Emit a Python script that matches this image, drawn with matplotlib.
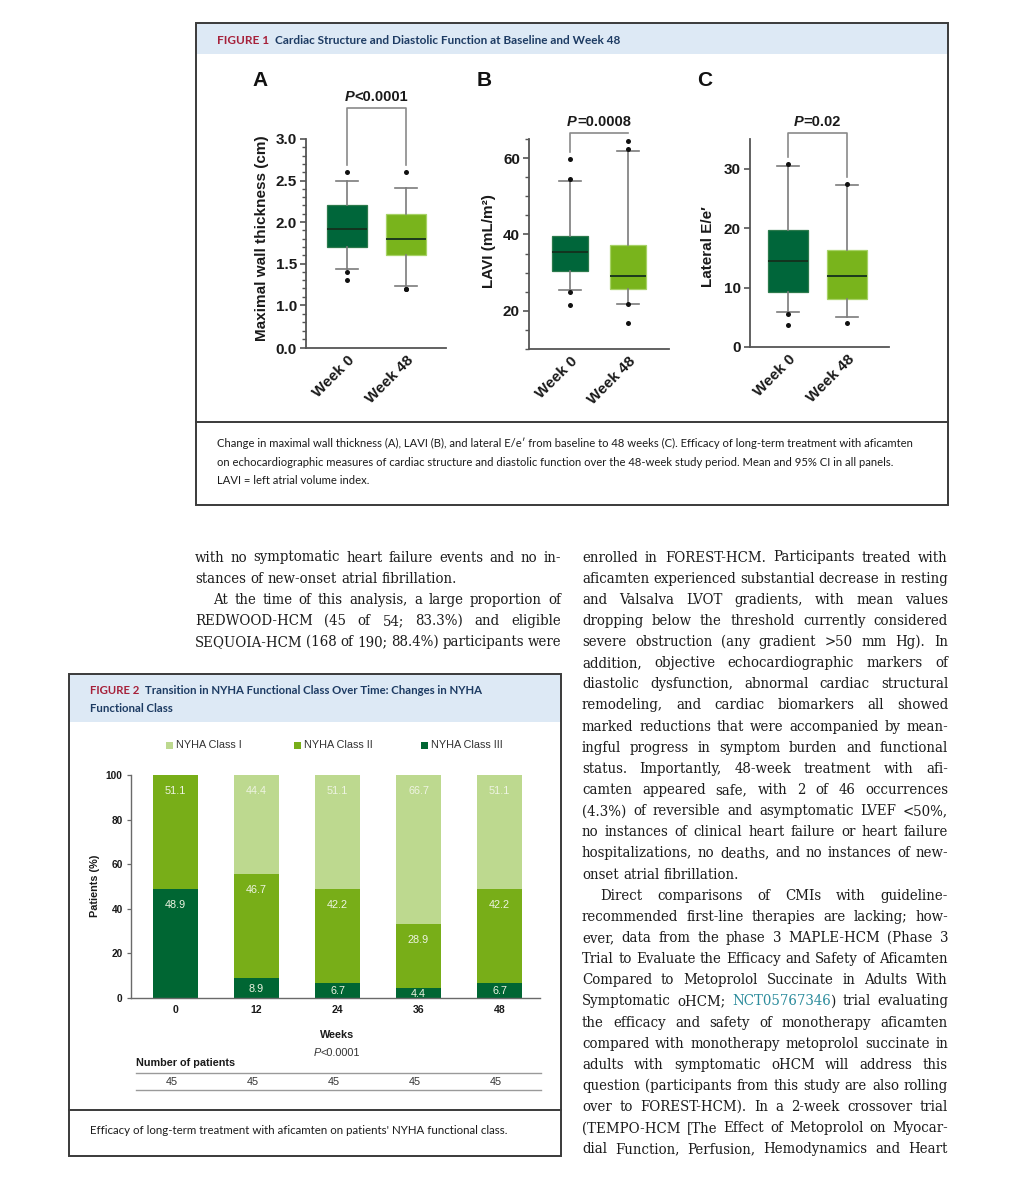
import numpy as np
import matplotlib
matplotlib.use('Agg')
import matplotlib.pyplot as plt
from matplotlib.patches import Rectangle
import matplotlib.ticker as mticker
import matplotlib.transforms as mtransforms
from matplotlib import font_manager as fm

plt.rcParams['font.family'] = ['Liberation Sans', 'DejaVu Sans']

# ---------------- data: Figure 1 (box plots) ----------------
box_groups = ['Week 0', 'Week 48']
wall_q1 = [1.70, 1.60]
wall_med = [1.91, 1.80]
wall_q3 = [2.20, 2.10]
wall_whislo = [1.43, 1.23]
wall_whishi = [2.50, 2.41]
wall_fliers = [[2.60, 1.40, 1.30], [2.60, 1.19, 1.19]]

lavi_q1 = [30.5, 25.6]
lavi_med = [35.3, 29.2]
lavi_q3 = [39.7, 37.2]
lavi_whislo = [25.5, 21.9]
lavi_whishi = [54.0, 61.9]
lavi_fliers = [[59.7, 54.4, 24.9, 21.4], [64.6, 62.4, 21.9, 16.9]]

ee_q1 = [9.3, 8.1]
ee_med = [14.5, 12.0]
ee_q3 = [19.7, 16.4]
ee_whislo = [5.9, 5.1]
ee_whishi = [30.4, 27.3]
ee_fliers = [[30.8, 5.6, 3.7], [27.4, 4.1]]

p_texts = ['<0.0001', '=0.0008', '=0.02']
panel_letters = ['A', 'B', 'C']
panel_ylabels = ['Maximal wall thickness (cm)', 'LAVI (mL/m\u00b2)', 'Lateral E/e\u2032']

# ---------------- data: Figure 2 (stacked bars) ----------------
weeks = ['0', '12', '24', '36', '48']
nyha_class1 = [0.0, 44.4, 51.1, 66.7, 51.1]
nyha_class2 = [51.1, 46.7, 42.2, 28.9, 42.2]
nyha_class3 = [48.9, 8.9, 6.7, 4.4, 6.7]
n_patients = [45, 45, 45, 45, 45]
nyha_labels = ['NYHA Class I', 'NYHA Class II', 'NYHA Class III']

# ---------------- text ----------------
fig1_title = 'Cardiac Structure and Diastolic Function at Baseline and Week 48'
fig1_caption = [
    'Change in maximal wall thickness (A), LAVI (B), and lateral E/e\u2032 from baseline to 48 weeks (C). Efficacy of long-term treatment with aficamten',
    'on echocardiographic measures of cardiac structure and diastolic function over the 48-week study period. Mean and 95% CI in all panels.',
    'LAVI = left atrial volume index.',
]
fig2_title = ['Transition in NYHA Functional Class Over Time: Changes in NYHA', 'Functional Class']
fig2_caption = "Efficacy of long-term treatment with aficamten on patients' NYHA functional class."

# (text, justified, indented)
left_col = [
    ('with no symptomatic heart failure events and no in-', True, False),
    ('stances of new-onset atrial fibrillation.', False, False),
    ('At the time of this analysis, a large proportion of', True, True),
    ('REDWOOD-HCM (45 of 54; 83.3%) and eligible', True, False),
    ('SEQUOIA-HCM (168 of 190; 88.4%) participants were', True, False),
]
right_col = [
    ('enrolled in FOREST-HCM. Participants treated with', True, False),
    ('aficamten experienced substantial decrease in resting', True, False),
    ('and Valsalva LVOT gradients, with mean values', True, False),
    ('dropping below the threshold currently considered', True, False),
    ('severe obstruction (any gradient >50 mm Hg). In', True, False),
    ('addition, objective echocardiographic markers of', True, False),
    ('diastolic dysfunction, abnormal cardiac structural', True, False),
    ('remodeling, and cardiac biomarkers all showed', True, False),
    ('marked reductions that were accompanied by mean-', True, False),
    ('ingful progress in symptom burden and functional', True, False),
    ('status. Importantly, 48-week treatment with afi-', True, False),
    ('camten appeared safe, with 2 of 46 occurrences', True, False),
    ('(4.3%) of reversible and asymptomatic LVEF <50%,', True, False),
    ('no instances of clinical heart failure or heart failure', True, False),
    ('hospitalizations, no deaths, and no instances of new-', True, False),
    ('onset atrial fibrillation.', False, False),
    ('Direct comparisons of CMIs with guideline-', True, True),
    ('recommended first-line therapies are lacking; how-', True, False),
    ('ever, data from the phase 3 MAPLE-HCM (Phase 3', True, False),
    ('Trial to Evaluate the Efficacy and Safety of Aficamten', True, False),
    ('Compared to Metoprolol Succinate in Adults With', True, False),
    ('Symptomatic oHCM; {NCT05767346}) trial evaluating', True, False),
    ('the efficacy and safety of monotherapy aficamten', True, False),
    ('compared with monotherapy metoprolol succinate in', True, False),
    ('adults with symptomatic oHCM will address this', True, False),
    ('question (participants from this study are also rolling', True, False),
    ('over to FOREST-HCM). In a 2-week crossover trial', True, False),
    ('(TEMPO-HCM [The Effect of Metoprolol on Myocar-', True, False),
    ('dial Function, Perfusion, Hemodynamics and Heart', True, False),
]


# ---------------- fonts ----------------
def find_path(family, **kw):
    try:
        return fm.findfont(fm.FontProperties(family=family, **kw), fallback_to_default=False)
    except Exception:
        return None


body_path = None
for fam in ['DejaVu Serif Condensed', 'DejaVu Serif']:
    pth = find_path(fam, stretch='condensed')
    if pth and 'ondensed' in pth and 'Bold' not in pth and 'Italic' not in pth:
        body_path = pth
        break
if body_path is None:
    body_path = find_path('Liberation Serif') or find_path('DejaVu Serif')

narrow_path = find_path('Liberation Sans Narrow')
if narrow_path and 'Narrow' not in narrow_path:
    narrow_path = None
narrow_bold_path = find_path('Liberation Sans Narrow', weight='bold')
if narrow_bold_path and 'Narrow' not in narrow_bold_path:
    narrow_bold_path = None


def body_fp(size):
    return fm.FontProperties(fname=body_path, size=size)


def cap_fp(size):
    if narrow_path:
        return fm.FontProperties(fname=narrow_path, size=size)
    return fm.FontProperties(family=['Lato', 'DejaVu Sans'], size=size)


def head_fp(size):
    if narrow_bold_path:
        return fm.FontProperties(fname=narrow_bold_path, size=size)
    return fm.FontProperties(family=['Lato', 'DejaVu Sans'], weight='bold', size=size)


# ---------------- styles ----------------
W, H = 1021, 1200
DARK = '#00663a'
LIGHT = '#79b41c'
BOX_EDGES = ['#2c7a4c', '#a7d266']
NYHA_COLORS = ['#bdd98f', '#78ae18', '#006633']
RED = '#a6213a'
NAVY = '#1d3b63'
HEAD = '#dde9f5'
FRAME = '#3a3a3a'
TEXT = '#1c1c1c'
TEAL = '#2c8c9c'

fig = plt.figure(figsize=(W / 100, H / 100), dpi=100)
fig.patch.set_facecolor('white')
renderer = fig.canvas.get_renderer()

bg = fig.add_axes([0, 0, 1, 1])
bg.set_xlim(0, W)
bg.set_ylim(H, 0)
bg.axis('off')
bg.set_zorder(-10)


def px_axes(l, t, r, b):
    return fig.add_axes([l / W, 1 - b / H, (r - l) / W, (b - t) / H])


def measure(s, **kw):
    t = bg.text(0, 0, s, **kw)
    w = t.get_window_extent(renderer).width
    t.remove()
    return w


def disp_to_bg(xy):
    return bg.transData.inverted().transform(xy)


# ---------------- frames ----------------
def frame(l, t, r, b, head_b, sep_y):
    bg.add_patch(Rectangle((l, t), r - l, head_b - t, facecolor=HEAD, edgecolor='none'))
    bg.add_patch(Rectangle((l, t), r - l, b - t, facecolor='none', edgecolor=FRAME, lw=1.4))
    bg.plot([l, r], [sep_y, sep_y], color=FRAME, lw=1.4)


frame(196, 23, 948, 505, 54, 422)
frame(69, 674, 561, 1156, 722, 1110)


def header(x, y, num, title, right):
    full = num + '  ' + title
    fs = 8.0 * (right - x) / measure(full, fontproperties=head_fp(8.0))
    bg.text(x, y, num, fontproperties=head_fp(fs), color=RED, ha='left', va='center')
    off = measure(full, fontproperties=head_fp(fs)) - measure(title, fontproperties=head_fp(fs))
    bg.text(x + off, y, title, fontproperties=head_fp(fs), color=NAVY, ha='left', va='center')
    return fs


header(217, 40, 'FIGURE 1', fig1_title, 620)
fs2 = header(90, 691, 'FIGURE 2', fig2_title[0], 485)
bg.text(90, 708, fig2_title[1], fontproperties=head_fp(fs2), color=NAVY, ha='left', va='center')

# captions
cap_fs = 8.0 * 702 / measure(fig1_caption[0], fontproperties=cap_fp(8.0))
for i, line in enumerate(fig1_caption):
    bg.text(217, [443, 462, 480][i], line, fontproperties=cap_fp(cap_fs), color=TEXT, ha='left', va='center')
cap2_fs = 8.0 * 420 / measure(fig2_caption, fontproperties=cap_fp(8.0))
bg.text(90, 1131, fig2_caption, fontproperties=cap_fp(cap2_fs), color=TEXT, ha='left', va='center')


# ---------------- Figure 1 panels ----------------
K = 0.518


def fwd(y):
    y = np.asarray(y, dtype=float)
    return np.where(y < 1, y * K, K + (y - 1))


def inv(v):
    v = np.asarray(v, dtype=float)
    return np.where(v < K, v / K, 1 + (v - K))


panels = [
    dict(rect=(306, 139, 446, 348), q1=wall_q1, med=wall_med, q3=wall_q3, lo=wall_whislo, hi=wall_whishi,
         fl=wall_fliers, xlim=(0.305, 2.68), width=0.69, capw=0.37, top=1.148, ptext=1.205,
         letter=(260, 80), ylab=(262, 238)),
    dict(rect=(529, 139, 669, 349), q1=lavi_q1, med=lavi_med, q3=lavi_q3, lo=lavi_whislo, hi=lavi_whishi,
         fl=lavi_fliers, xlim=(0.293, 2.707), width=0.63, capw=0.38, top=1.029, ptext=1.088,
         letter=(484, 80), ylab=(489, 241)),
    dict(rect=(750, 139, 889, 347), q1=ee_q1, med=ee_med, q3=ee_q3, lo=ee_whislo, hi=ee_whishi,
         fl=ee_fliers, xlim=(0.356, 2.71), width=0.69, capw=0.37, top=1.029, ptext=1.088,
         letter=(705, 80), ylab=(708, 247)),
]

for i, p in enumerate(panels):
    ax = px_axes(*p['rect'])
    ax.set_facecolor('none')
    stats = [dict(med=p['med'][j], q1=p['q1'][j], q3=p['q3'][j], whislo=p['lo'][j], whishi=p['hi'][j],
                  fliers=p['fl'][j], label=box_groups[j]) for j in range(2)]
    bp = ax.bxp(stats, positions=[1, 2], widths=p['width'], capwidths=p['capw'], patch_artist=True,
                showfliers=True,
                boxprops=dict(linewidth=0.9),
                medianprops=dict(color='#14301d', linewidth=1.3),
                whiskerprops=dict(color='#7c7c7c', linewidth=1.2),
                capprops=dict(color='#7c7c7c', linewidth=1.2),
                flierprops=dict(marker='o', markersize=3.6, markerfacecolor='#111111', markeredgecolor='none'))
    for patch, fc, ec in zip(bp['boxes'], [DARK, LIGHT], BOX_EDGES):
        patch.set_facecolor(fc)
        patch.set_edgecolor(ec)
    for fl in bp['fliers']:
        fl.set_zorder(5)

    if i == 0:
        ax.set_yscale('function', functions=(fwd, inv))
        ax.set_ylim(0, 3.0)
        ax.yaxis.set_major_locator(mticker.FixedLocator([0, 1.0, 1.5, 2.0, 2.5, 3.0]))
        ax.yaxis.set_major_formatter(mticker.FormatStrFormatter('%.1f'))
        minors = list(np.arange(0.2, 0.99, 0.2)) + [v for v in np.arange(1.1, 2.99, 0.1)
                                                    if abs(v * 2 - round(v * 2)) > 1e-6]
        ax.yaxis.set_minor_locator(mticker.FixedLocator(minors))
    elif i == 1:
        ax.set_ylim(10, 65)
        ax.yaxis.set_major_locator(mticker.FixedLocator([20, 40, 60]))
        ax.yaxis.set_minor_locator(mticker.MultipleLocator(5))
    else:
        ax.set_ylim(0, 35)
        ax.yaxis.set_major_locator(mticker.FixedLocator([0, 10, 20, 30]))
    ax.set_xlim(*p['xlim'])

    for s in ['top', 'right']:
        ax.spines[s].set_visible(False)
    for s in ['left', 'bottom']:
        ax.spines[s].set_color('#555555')
        ax.spines[s].set_linewidth(1.3)
    ax.tick_params(axis='y', which='major', length=4.5, width=1.2, color='#555555', labelsize=11, pad=2)
    ax.tick_params(axis='y', which='minor', length=3, width=1.0, color='#555555')
    ax.tick_params(axis='x', length=0, labelsize=11, pad=4)
    for lab in ax.get_yticklabels():
        lab.set_fontweight('bold')
        lab.set_color('#1a1a1a')
    ax.set_xticks([1, 2])
    ax.set_xticklabels(box_groups, rotation=45, ha='right', rotation_mode='anchor', fontweight='bold',
                       fontsize=11, color='#1a1a1a')

    # bracket
    to_frac = lambda v: (ax.transData + ax.transAxes.inverted()).transform((1, v))[1]
    ymax = [max([p['hi'][j]] + list(p['fl'][j])) for j in range(2)]
    yl = to_frac(ymax[0]) + 0.035
    yr = to_frac(ymax[1]) + 0.035
    tr = ax.get_xaxis_transform()
    ax.plot([1, 1, 2, 2], [yl, p['top'], p['top'], yr], transform=tr, clip_on=False, color='#8a8a8a', lw=1.2)
    cx, cy = disp_to_bg(tr.transform((1.5, p['ptext'])))
    pfs = 10.5
    wP = measure('P', fontsize=pfs, fontweight='bold', fontstyle='italic')
    wR = measure(p_texts[i], fontsize=pfs, fontweight='bold')
    x0 = cx - (wP + wR) / 2
    base = cy + 0.36 * pfs * 100 / 72
    bg.text(x0, base, 'P', fontsize=pfs, fontweight='bold', fontstyle='italic', color='#1a1a1a',
            ha='left', va='baseline')
    bg.text(x0 + wP, base, p_texts[i], fontsize=pfs, fontweight='bold', color='#1a1a1a',
            ha='left', va='baseline')

    bg.text(*p['letter'], panel_letters[i], fontsize=15, fontweight='bold', color='#111111', ha='center', va='center')
    bg.text(*p['ylab'], panel_ylabels[i], fontsize=11, fontweight='bold', color='#1a1a1a', rotation=90,
            ha='center', va='center')

# ---------------- Figure 2 ----------------
ax2 = px_axes(131, 775, 540, 998)
ax2.set_facecolor('none')
xpos = np.arange(len(weeks))
bw = 0.56
bot2 = np.array(nyha_class3)
bot1 = bot2 + np.array(nyha_class2)
series = [(nyha_class3, np.zeros(len(weeks)), NYHA_COLORS[2]),
          (nyha_class2, bot2, NYHA_COLORS[1]),
          (nyha_class1, bot1, NYHA_COLORS[0])]
for vals, bottoms, col in series:
    ax2.bar(xpos, vals, bottom=bottoms, width=bw, color=col, edgecolor='none')
    for xi, v, b in zip(xpos, vals, bottoms):
        if v <= 0:
            continue
        top = b + v
        y = top - 7.3 if v > 15 else b + v * 0.45
        ax2.text(xi, y, f'{v:.1f}', ha='center', va='center', fontsize=7.8, color='#eef4e2')
ax2.set_xlim(-0.55, 4.5)
ax2.set_ylim(0, 100)
ax2.set_yticks([0, 20, 40, 60, 80, 100])
ax2.set_xticks(xpos)
ax2.set_xticklabels(weeks)
for s in ['top', 'right']:
    ax2.spines[s].set_visible(False)
for s in ['left', 'bottom']:
    ax2.spines[s].set_color('#6a6a6a')
    ax2.spines[s].set_linewidth(1.0)
ax2.tick_params(axis='y', length=3, width=0.9, color='#6a6a6a', labelsize=7.3, pad=3)
ax2.tick_params(axis='x', length=0, labelsize=7.6, pad=5)
for lab in ax2.get_yticklabels() + ax2.get_xticklabels():
    lab.set_fontweight('bold')
    lab.set_color('#1a1a1a')

bg.text(95, 886, 'Patients (%)', fontsize=7.8, fontweight='bold', rotation=90, ha='center', va='center', color='#1a1a1a')
bg.text(337, 1035, 'Weeks', fontsize=7.8, fontweight='bold', ha='center', va='center', color='#1a1a1a')
wP = measure('P', fontsize=7.8, fontstyle='italic')
wR = measure('<0.0001', fontsize=7.8)
x0 = 337 - (wP + wR) / 2
bg.text(x0, 1055.5, 'P', fontsize=7.8, fontstyle='italic', ha='left', va='baseline', color='#333333')
bg.text(x0 + wP, 1055.5, '<0.0001', fontsize=7.8, ha='left', va='baseline', color='#333333')
bg.text(136, 1063, 'Number of patients', fontsize=7.8, fontweight='bold', ha='left', va='center', color='#1a1a1a')
bg.plot([136, 541], [1073, 1073], color='#9a9a9a', lw=1.0)
bg.plot([136, 541], [1090, 1090], color='#9a9a9a', lw=1.0)
blend = mtransforms.blended_transform_factory(ax2.transData, bg.transData)
for xi, n in zip(xpos, n_patients):
    bg.text(xi - 0.04, 1082, str(n), transform=blend, fontsize=7.8, ha='center', va='center', color='#333333')

# legend
leg_x = [166, 294, 421]
for lx, lab, col in zip(leg_x, nyha_labels, NYHA_COLORS):
    bg.add_patch(Rectangle((lx, 741.5), 7, 7, facecolor=col, edgecolor='none'))
    bg.text(lx + 9.5, 745, lab, fontsize=7.8, ha='left', va='center', color='#333333')


# ---------------- body text ----------------
def parse_word(w):
    if '{' in w:
        pre, rest = w.split('{', 1)
        inner, post = rest.split('}', 1)
        parts = []
        if pre:
            parts.append((pre, TEXT))
        parts.append((inner, TEAL))
        if post:
            parts.append((post, TEXT))
        return parts
    return [(w, TEXT)]


COL_W = 366
INDENT = 18
fs0 = 10.0
space0 = measure('a a', fontproperties=body_fp(fs0)) - measure('aa', fontproperties=body_fp(fs0))
worst = 0
for line, just, ind in left_col + right_col:
    if not just:
        continue
    words = [parse_word(w) for w in line.split()]
    nat = sum(measure(t, fontproperties=body_fp(fs0)) for w in words for t, _ in w) + 0.8 * space0 * (len(words) - 1)
    worst = max(worst, nat / (COL_W - (INDENT if ind else 0)))
BFS = fs0 / worst * 0.998
space_w = measure('a a', fontproperties=body_fp(BFS)) - measure('aa', fontproperties=body_fp(BFS))


def place_column(lines, x0, y0, step):
    for k, (line, just, ind) in enumerate(lines):
        words = [parse_word(w) for w in line.split()]
        xs = x0 + (INDENT if ind else 0)
        width = COL_W - (INDENT if ind else 0)
        part_w = [[measure(t, fontproperties=body_fp(BFS)) for t, _ in w] for w in words]
        ws = [sum(pw) for pw in part_w]
        gap = (width - sum(ws)) / (len(words) - 1) if (just and len(words) > 1) else space_w
        y = y0 + k * step
        x = xs
        for w, pw, wd in zip(words, part_w, ws):
            xx = x
            for (t, c), tw in zip(w, pw):
                bg.text(xx, y, t, fontproperties=body_fp(BFS), color=c, ha='left', va='baseline')
                xx += tw
            x += wd + gap


place_column(left_col, 195, 561.5, 21.14)
place_column(right_col, 582, 561.5, 21.14)

fig.savefig('out.png', dpi=100, facecolor='white')
